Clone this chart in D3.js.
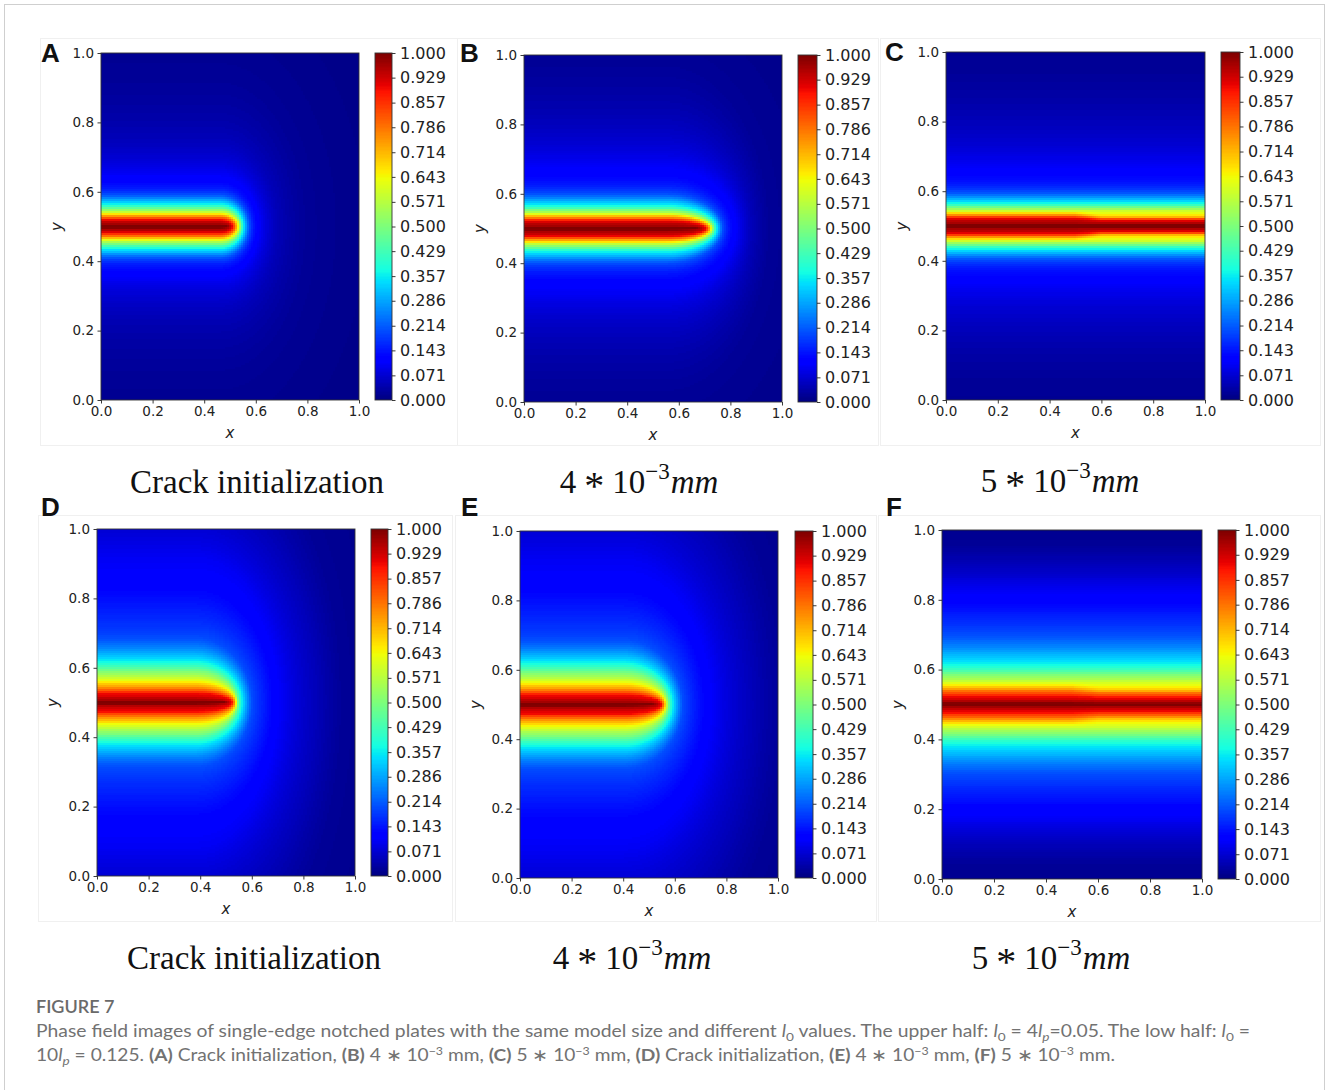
<!DOCTYPE html>
<html><head><meta charset="utf-8">
<script src="https://cdn.jsdelivr.net/npm/d3@7"></script>
<style>body{margin:0;background:#fff;} svg{display:block;}</style>
</head><body>
<svg id="fig" width="1328" height="1090"></svg>
<script>
// ================= DATA =================
const panelIds = ["A", "B", "C", "D", "E", "F"];
const axisTicks = [0, 0.2, 0.4, 0.6, 0.8, 1.0];
const axisTickLabels = ["0.0", "0.2", "0.4", "0.6", "0.8", "1.0"];
const cbarTicks = [0, 0.071, 0.143, 0.214, 0.286, 0.357, 0.429, 0.5, 0.571, 0.643, 0.714, 0.786, 0.857, 0.929, 1.0];
const cbarTickLabels = ["0.000", "0.071", "0.143", "0.214", "0.286", "0.357", "0.429", "0.500", "0.571", "0.643", "0.714", "0.786", "0.857", "0.929", "1.000"];

// phase-field contour levels (value of phi)
const phiLevels = [1.0, 0.95, 0.9, 0.8, 0.7, 0.6, 0.5, 0.4, 0.3, 0.2, 0.15, 0.1, 0.05, 0.02, 0.0];
// half-width (distance from crack line y = 0.5) at which phi reaches each level
const latA = [0.004, 0.0125, 0.019, 0.027, 0.034, 0.041, 0.050, 0.060, 0.075, 0.092, 0.110, 0.155, 0.25, 0.43, 1.5];
const latB = [0.004, 0.015, 0.023, 0.029, 0.037, 0.043, 0.053, 0.062, 0.080, 0.100, 0.125, 0.19, 0.31, 0.48, 1.5];
const latC = [0.004, 0.015, 0.023, 0.029, 0.036, 0.043, 0.053, 0.062, 0.078, 0.097, 0.120, 0.18, 0.30, 0.45, 1.5];
const latD = [0.004, 0.012, 0.027, 0.038, 0.053, 0.070, 0.091, 0.110, 0.140, 0.185, 0.27, 0.42, 0.60, 0.80, 2.0];
const latE = [0.004, 0.013, 0.028, 0.039, 0.054, 0.071, 0.092, 0.112, 0.142, 0.185, 0.27, 0.42, 0.62, 0.82, 2.0];
const latF = [0.004, 0.012, 0.024, 0.038, 0.050, 0.065, 0.086, 0.105, 0.145, 0.200, 0.26, 0.33, 0.40, 0.46, 0.6];
// x position where each level crosses the crack axis ahead of the tip (null = through crack)
const reachA = [0.49, 0.50, 0.51, 0.52, 0.527, 0.535, 0.541, 0.548, 0.56, 0.575, 0.59, 0.62, 0.68, 0.80, 2.0];
const reachB = [0.675, 0.69, 0.705, 0.714, 0.722, 0.728, 0.734, 0.742, 0.755, 0.77, 0.79, 0.83, 0.88, 0.95, 2.5];
const reachC = null;
const reachD = [0.50, 0.51, 0.523, 0.53, 0.537, 0.541, 0.545, 0.555, 0.575, 0.60, 0.65, 0.72, 0.85, 0.95, 1.6];
const reachE = [0.52, 0.535, 0.548, 0.555, 0.562, 0.568, 0.575, 0.585, 0.605, 0.63, 0.68, 0.76, 0.90, 1.02, 1.8];
const reachF = null;
// x where crack-tip rounding starts
const tipBend = {A: 0.46, B: 0.55, C: 0, D: 0.38, E: 0.40, F: 0};
// narrowing of the crack core along x (through cracks)
const coreX = [0, 0.5, 0.6, 1.0];
const coreC = [1, 1, 0.75, 0.75];
const coreF = [1, 1, 0.85, 0.85];

const subtitleMain = ["Crack initialization", "4", "5", "Crack initialization", "4", "5"];
const subtitleExp = [null, "10", "10", null, "10", "10"];
const subtitleSup = [null, "\u22123", "\u22123", null, "\u22123", "\u22123"];
const subtitleUnit = [null, "mm", "mm", null, "mm", "mm"];

const figLabel = "FIGURE 7";

// ================= LAYOUT =================
const layout = {
  A: {x0: 101, x1: 359, y0: 53, y1: 400, cb0: 375, cb1: 392, lx: 41, ly: 62, sx: 257, sy: 493, frame: [40, 38, 457, 445]},
  B: {x0: 524, x1: 782, y0: 55, y1: 402, cb0: 798, cb1: 817, lx: 460, ly: 62, sx: 639, sy: 493, frame: [457, 38, 878, 445]},
  C: {x0: 946, x1: 1205, y0: 52, y1: 400, cb0: 1221, cb1: 1240, lx: 885, ly: 61, sx: 1060, sy: 492, frame: [880, 38, 1320, 445]},
  D: {x0: 97, x1: 355, y0: 529, y1: 876, cb0: 371, cb1: 388, lx: 41, ly: 516, sx: 254, sy: 969, frame: [38, 515, 452, 921]},
  E: {x0: 520, x1: 778, y0: 531, y1: 878, cb0: 795, cb1: 813, lx: 461, ly: 516, sx: 632, sy: 969, frame: [455, 515, 876, 921]},
  F: {x0: 942, x1: 1202, y0: 530, y1: 879, cb0: 1218, cb1: 1236, lx: 886, ly: 516, sx: 1051, sy: 969, frame: [878, 515, 1320, 921]}
};
const fieldData = {
  A: {lat: latA, reach: reachA, core: null},
  B: {lat: latB, reach: reachB, core: null},
  C: {lat: latC, reach: reachC, core: coreC},
  D: {lat: latD, reach: reachD, core: null},
  E: {lat: latE, reach: reachE, core: null},
  F: {lat: latF, reach: reachF, core: coreF}
};

// ================= COLORMAP (jet) =================
const jetR = d3.scaleLinear().domain([0, 0.35, 0.66, 0.89, 1]).range([0, 0, 1, 1, 0.5]).clamp(true);
const jetG = d3.scaleLinear().domain([0, 0.125, 0.375, 0.64, 0.91, 1]).range([0, 0, 1, 1, 0, 0]).clamp(true);
const jetB = d3.scaleLinear().domain([0, 0.11, 0.34, 0.65, 1]).range([0.5, 1, 1, 0, 0]).clamp(true);
const jetLUT = d3.range(256).map(i => { const q = i / 255; return d3.rgb(jetR(q) * 255, jetG(q) * 255, jetB(q) * 255).formatHex(); });
const jetIndex = v => Math.max(0, Math.min(255, Math.round(v * 255)));

function phiAt(id, x, y) {
  const fd = fieldData[id];
  const dy = Math.abs(y - 0.5);
  let cs = 1;
  if (fd.core) cs = d3.scaleLinear().domain(coreX).range(fd.core).clamp(true)(x);
  const through = fd.reach === null;
  const c = tipBend[id];
  const dx = through ? 0 : Math.max(0, x - c);
  let prevS = Infinity, prevV = phiLevels[0];
  for (let i = 0; i < phiLevels.length; i++) {
    let a = fd.lat[i];
    if (phiLevels[i] >= 0.7) a *= cs;
    const h = through ? 1 : fd.reach[i] - c;
    const s = Math.sqrt((dx / h) ** 2 + (dy / a) ** 2);
    if (s <= 1) {
      if (i === 0) return phiLevels[0];
      const t = (prevS - 1) / (prevS - s);
      return prevV + (phiLevels[i] - prevV) * t;
    }
    prevS = s; prevV = phiLevels[i];
  }
  return phiLevels[phiLevels.length - 1];
}

// ================= DRAW =================
const svg = d3.select("#fig");
svg.append("rect").attr("x", 4.5).attr("y", 4.5).attr("width", 1320).attr("height", 1100)
  .attr("fill", "#fff").attr("stroke", "#cfcfcf").attr("stroke-width", 1);

const tickFont = "DejaVu Sans, Verdana, sans-serif";
const CELL = 2; // pixel size of field cells

panelIds.forEach((id, pi) => {
  const L = layout[id];
  const g = svg.append("g");
  g.append("rect").attr("x", L.frame[0] + 0.5).attr("y", L.frame[1] + 0.5)
    .attr("width", L.frame[2] - L.frame[0]).attr("height", L.frame[3] - L.frame[1])
    .attr("fill", "none").attr("stroke", "#f0f0f0");

  const xs = d3.scaleLinear().domain([0, 1]).range([L.x0, L.x1]);
  const ys = d3.scaleLinear().domain([0, 1]).range([L.y1, L.y0]);

  // field cells on an integer pixel grid, merged horizontally when the colour index is equal
  const cells = [];
  const px0 = Math.round(xs(0)), px1 = Math.round(xs(1));
  const py0 = Math.round(ys(1)), py1 = Math.round(ys(0));
  for (let py = py0; py < py1; py += CELL) {
    const ph = Math.min(CELL, py1 - py);
    const yc = ys.invert(py + ph / 2);
    let runStart = px0, runIdx = null;
    for (let px = px0; px < px1; px += CELL) {
      const pw = Math.min(CELL, px1 - px);
      const idx = jetIndex(phiAt(id, xs.invert(px + pw / 2), yc));
      if (runIdx === null) { runIdx = idx; continue; }
      if (idx !== runIdx) {
        cells.push({px: runStart, pw: px - runStart, py, ph, idx: runIdx});
        runStart = px; runIdx = idx;
      }
    }
    cells.push({px: runStart, pw: px1 - runStart, py, ph, idx: runIdx});
  }
  g.append("g").attr("shape-rendering", "crispEdges").selectAll("rect").data(cells).join("rect")
    .attr("x", d => d.px).attr("y", d => d.py)
    .attr("width", d => d.pw).attr("height", d => d.ph)
    .attr("fill", d => jetLUT[d.idx]);

  // axes
  const xAxis = d3.axisBottom(xs).tickValues(axisTicks).tickFormat((d, i) => axisTickLabels[i]).tickSize(3.5).tickPadding(3);
  const yAxis = d3.axisLeft(ys).tickValues(axisTicks).tickFormat((d, i) => axisTickLabels[i]).tickSize(3.5).tickPadding(3.5);
  const gx = g.append("g").attr("transform", `translate(0,${L.y1})`).call(xAxis);
  const gy = g.append("g").attr("transform", `translate(${L.x0},0)`).call(yAxis);
  [gx, gy].forEach(a => {
    a.select(".domain").remove();
    a.selectAll("line").attr("stroke", "#222").attr("stroke-width", 0.9);
    a.selectAll("text").attr("font-family", tickFont).attr("font-size", 13.5).attr("fill", "#222");
  });
  g.append("rect").attr("x", L.x0).attr("y", L.y0).attr("width", L.x1 - L.x0).attr("height", L.y1 - L.y0)
    .attr("fill", "none").attr("stroke", "#333").attr("stroke-width", 0.9);

  g.append("text").attr("x", (L.x0 + L.x1) / 2).attr("y", L.y1 + 38).attr("text-anchor", "middle")
    .attr("font-family", tickFont).attr("font-style", "italic").attr("font-size", 15).attr("fill", "#222").text("x");
  g.append("text").attr("transform", `translate(${L.x0 - 39},${(L.y0 + L.y1) / 2}) rotate(-90)`)
    .attr("text-anchor", "middle").attr("font-family", tickFont).attr("font-style", "italic")
    .attr("font-size", 15).attr("fill", "#222").text("y");

  // colorbar
  const cs = d3.scaleLinear().domain([0, 1]).range([L.y1, L.y0]);
  const cbSteps = d3.range(256);
  g.append("g").attr("shape-rendering", "crispEdges").selectAll("rect").data(cbSteps).join("rect")
    .attr("x", L.cb0).attr("width", L.cb1 - L.cb0)
    .attr("y", d => Math.floor(cs((d + 1) / 256)))
    .attr("height", d => Math.ceil(cs(d / 256)) - Math.floor(cs((d + 1) / 256)))
    .attr("fill", d => jetLUT[d]);
  g.append("rect").attr("x", L.cb0).attr("y", L.y0).attr("width", L.cb1 - L.cb0).attr("height", L.y1 - L.y0)
    .attr("fill", "none").attr("stroke", "#333").attr("stroke-width", 0.9);
  const cAxis = d3.axisRight(cs).tickValues(cbarTicks).tickFormat((d, i) => cbarTickLabels[i]).tickSize(3.5).tickPadding(4.5);
  const gc = g.append("g").attr("transform", `translate(${L.cb1},0)`).call(cAxis);
  gc.select(".domain").remove();
  gc.selectAll("line").attr("stroke", "#222").attr("stroke-width", 0.9);
  gc.selectAll("text").attr("font-family", tickFont).attr("font-size", 16).attr("fill", "#222");

  // panel letter
  g.append("text").attr("x", L.lx).attr("y", L.ly).attr("font-family", "Liberation Sans, Arial, sans-serif")
    .attr("font-weight", "bold").attr("font-size", 26).attr("fill", "#111").text(id);

  // subtitle
  const st = g.append("text").attr("x", L.sx).attr("y", L.sy).attr("text-anchor", "middle")
    .attr("font-family", "Liberation Serif, Times New Roman, serif").attr("font-size", 33).attr("fill", "#111");
  st.append("tspan").text(subtitleMain[pi]);
  if (subtitleSup[pi]) {
    st.append("tspan").attr("dx", 8).attr("dy", 6).attr("font-size", 40).text("*");
    st.append("tspan").attr("dx", 8).attr("dy", -6).text(subtitleExp[pi]);
    st.append("tspan").attr("font-size", 23).attr("dy", -14).text(subtitleSup[pi]);
    st.append("tspan").attr("dy", 14).attr("font-style", "italic").attr("dx", 1).text(subtitleUnit[pi]);
  }
});

// ================= CAPTION =================
const capFont = "Lato, Open Sans, sans-serif";
svg.append("text").attr("x", 36).attr("y", 1013).attr("font-family", capFont).attr("font-size", 18)
  .attr("font-weight", 600).attr("fill", "#6a6a6a").text(figLabel);

const line1 = svg.append("text").attr("x", 36).attr("y", 1037).attr("font-family", capFont)
  .attr("font-size", 17).attr("fill", "#727272").attr("textLength", 1214).attr("lengthAdjust", "spacingAndGlyphs");
function seg(t, parts) {
  parts.forEach(p => {
    const s = t.append("tspan").text(p.t);
    if (p.i) s.attr("font-style", "italic");
    if (p.b) s.attr("font-weight", "bold");
    if (p.sub) s.attr("font-size", 12).attr("dy", 4);
    if (p.sup) s.attr("font-size", 11).attr("dy", -6);
    if (p.back) s.attr("dy", p.back);
  });
}
seg(line1, [
  {t: "Phase field images of single-edge notched plates with the same model size and different "},
  {t: "l", i: true}, {t: "0", sub: true}, {t: " values. The upper half: ", back: -4},
  {t: "l", i: true}, {t: "0", sub: true}, {t: " = 4", back: -4}, {t: "l", i: true}, {t: "p", sub: true, i: true},
  {t: "=0.05. The low half: ", back: -4}, {t: "l", i: true}, {t: "0", sub: true}, {t: " =", back: -4}
]);
const line2 = svg.append("text").attr("x", 36).attr("y", 1061).attr("font-family", capFont)
  .attr("font-size", 17).attr("fill", "#727272").attr("textLength", 1079).attr("lengthAdjust", "spacingAndGlyphs");
seg(line2, [
  {t: "10"}, {t: "l", i: true}, {t: "p", sub: true, i: true}, {t: " = 0.125. ", back: -4},
  {t: "(A)", b: true}, {t: " Crack initialization, "},
  {t: "(B)", b: true}, {t: " 4 \u2217 10"}, {t: "\u22123", sup: true}, {t: " mm, ", back: 6},
  {t: "(C)", b: true}, {t: " 5 \u2217 10"}, {t: "\u22123", sup: true}, {t: " mm, ", back: 6},
  {t: "(D)", b: true}, {t: " Crack initialization, "},
  {t: "(E)", b: true}, {t: " 4 \u2217 10"}, {t: "\u22123", sup: true}, {t: " mm, ", back: 6},
  {t: "(F)", b: true}, {t: " 5 \u2217 10"}, {t: "\u22123", sup: true}, {t: " mm.", back: 6}
]);
</script>
</body></html>
